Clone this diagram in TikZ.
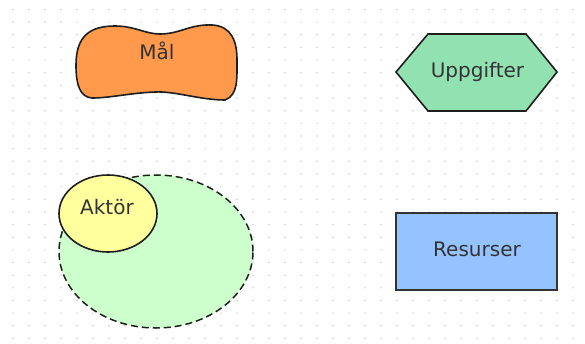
\documentclass[tikz,border=0pt]{standalone}
\usepackage{fontspec}
\setmainfont{DejaVu Sans}
\usetikzlibrary{shapes.geometric}
\definecolor{txt}{HTML}{333333}
\definecolor{outl}{HTML}{1E1E1E}
\definecolor{malfill}{HTML}{FF9A4D}
\definecolor{uppfill}{HTML}{92E1B1}
\definecolor{resfill}{HTML}{94C3FF}
\definecolor{aktfill}{HTML}{FFFF9E}
\definecolor{grpfill}{HTML}{CCFFCC}
\definecolor{griddot}{HTML}{CFCFCF}
\tikzset{
  shapeline/.style={draw=outl, line width=1.6pt},
  labeltext/.style={anchor=base, inner sep=0pt, text=txt, font=\fontsize{20}{24}\selectfont},
}
\begin{document}
\begin{tikzpicture}[x=1pt, y=-1pt]
  \useasboundingbox (0,0) rectangle (585,343);
  \fill[white] (0,0) rectangle (585,343);
  % dotted background grid
  \foreach \i in {0,...,36} {
    \foreach \j in {0,...,26} {
      \fill[griddot] ({13+16*\i},{9.5+12.65*\j}) circle (0.85);
    }
  }
  % goal blob
  \path[shapeline, fill=malfill] (92,98)
    .. controls (80,97) and (76,85) .. (76,65)
    .. controls (76,36) and (90,26) .. (115,26)
    .. controls (135,26) and (145,34) .. (160,34)
    .. controls (180,34) and (190,24) .. (212,25)
    .. controls (232,26) and (237,42) .. (237,60)
    .. controls (237,80) and (238,95) .. (225,100)
    .. controls (200,100) and (175,91) .. (155,92)
    .. controls (130,93) and (110,98) .. (92,98) -- cycle;
  \node[labeltext] (mal) at (157,59.5) {Mål};
  % tasks hexagon
  \path[shapeline, fill=uppfill] (396,72) -- (428,34) -- (526,34) -- (557,72)
    -- (526,111) -- (428,111) -- cycle;
  \node[labeltext] (upp) at (477.5,77) {Uppgifter};
  % resources box
  \node[rectangle, draw=txt, line width=1.9pt, fill=resfill, minimum width=161pt,
        minimum height=77pt, inner sep=0pt] (resbox) at (476.5,251.5) {};
  \node[labeltext] (res) at (477,256) {Resurser};
  % actor group and actor
  \node[ellipse, draw=outl, line width=1.5pt, dash pattern=on 7pt off 4pt,
        fill=grpfill, minimum width=194pt, minimum height=153pt, inner sep=0pt]
        (grp) at (156,251.5) {};
  \node[ellipse, shapeline, fill=aktfill, minimum width=98pt, minimum height=77pt,
        inner sep=0pt] (aktbox) at (108,213.5) {};
  \node[labeltext] (akt) at (107,214.5) {Aktör};
\end{tikzpicture}
\end{document}
